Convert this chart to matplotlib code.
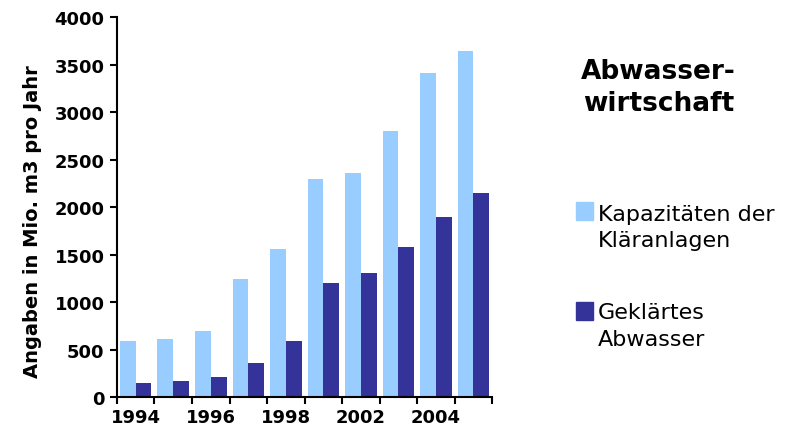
import numpy as np
import matplotlib
matplotlib.use('Agg')
import matplotlib.pyplot as plt
from matplotlib.patches import Rectangle

# data
years = ['1994', '1995', '1996', '1997', '1998', '2001', '2002', '2003', '2004', '2005']
tick_labels = ['1994', '', '1996', '', '1998', '', '2002', '', '2004', '']
kapazitaet = [590, 608, 696, 1241, 1557, 2295, 2358, 2801, 3413, 3645]
geklaert = [144, 165, 207, 355, 587, 1199, 1304, 1578, 1895, 2148]
series_names = ['Kapazitäten der\nKläranlagen', 'Geklärtes\nAbwasser']

light = '#99CCFF'
dark = '#333399'

plt.rcParams['font.family'] = ['DejaVu Sans']

fig = plt.figure(figsize=(7.85, 4.39), dpi=100)
ax = fig.add_axes([0.149, 0.093, 0.478, 0.866])

x = np.arange(len(years))
w = 0.42
b1 = ax.bar(x - w / 2, kapazitaet, width=w, color=light)
b2 = ax.bar(x + w / 2, geklaert, width=w, color=dark)

ax.set_xlim(-0.5, len(years) - 0.5)
ax.set_ylim(0, 4000)
ax.set_yticks(np.arange(0, 4001, 500))

# ticks on the category borders, labels in the middle
ax.set_xticks(np.arange(-0.5, len(years), 1.0))
ax.set_xticklabels([])
ax.set_xticks(x, minor=True)
ax.set_xticklabels(tick_labels, minor=True)
ax.tick_params(axis='x', which='minor', length=0, pad=8)
ax.tick_params(axis='x', which='major', length=5, width=1.5, direction='out')
ax.tick_params(axis='y', length=5, width=1.5, direction='out', pad=4)

for lab in ax.get_xticklabels(minor=True) + ax.get_yticklabels():
    lab.set_fontsize(13)
    lab.set_fontweight('bold')

for s in ['top', 'right']:
    ax.spines[s].set_visible(False)
for s in ['left', 'bottom']:
    ax.spines[s].set_linewidth(1.5)

ax.set_ylabel('Angaben in Mio. m3 pro Jahr', fontsize=14, fontweight='bold')
ax.yaxis.set_label_coords(-0.2, 0.465)

fig.text(0.839, 0.80, 'Abwasser-\nwirtschaft', fontsize=19, fontweight='bold',
         ha='center', va='center', linespacing=1.3)

# legend drawn by hand so the square sits next to the first line
square_y = [0.517, 0.289]
text_y = [0.481, 0.256]
for bars, name, sy, ty in zip([b1, b2], series_names, square_y, text_y):
    fig.add_artist(Rectangle((0.734, sy - 0.0205), 0.0217, 0.041,
                             color=bars.patches[0].get_facecolor(),
                             transform=fig.transFigure))
    fig.text(0.762, ty, name, fontsize=16, va='center', ha='left', linespacing=1.4)

fig.savefig('out.png', dpi=100)
